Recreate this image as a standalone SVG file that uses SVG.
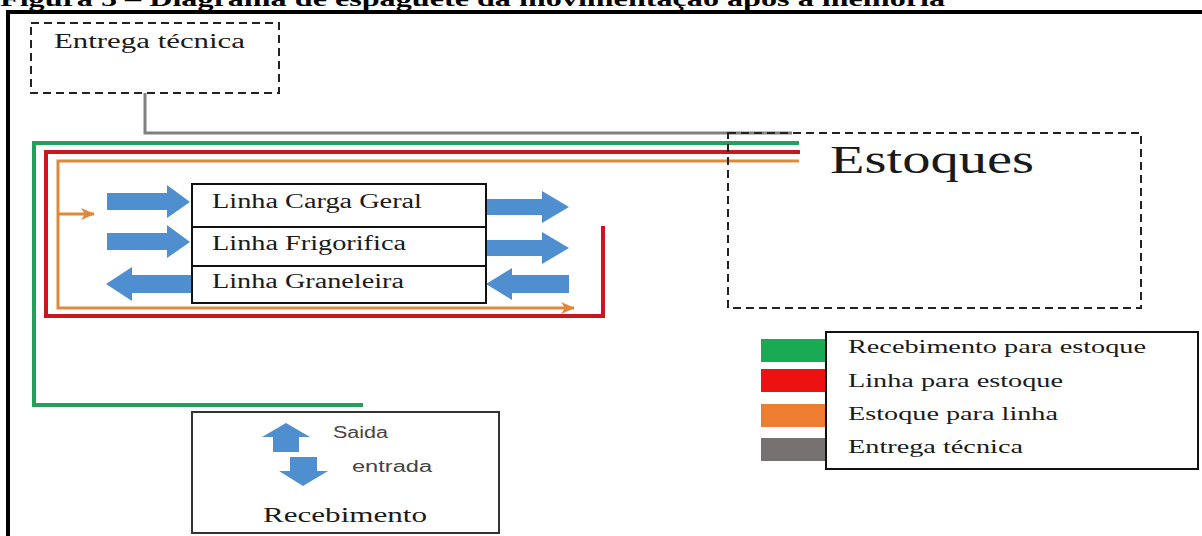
<svg xmlns="http://www.w3.org/2000/svg" width="1202" height="536" viewBox="0 0 1202 536">
<style>
.serif{font-family:"Liberation Serif","Times New Roman",serif;fill:#1a1a1a}
.sans{font-family:"Liberation Sans",Arial,sans-serif;fill:#444}
.dash{fill:#fff;stroke:#222;stroke-width:2;stroke-dasharray:8 5}
.box{fill:#fff;stroke:#111;stroke-width:2}
.blue{fill:#4F8FCF}
.ln{fill:none;stroke-linejoin:miter;stroke-linecap:butt}
</style>
<defs>
<marker id="ah" markerUnits="userSpaceOnUse" markerWidth="14" markerHeight="12" refX="13" refY="6" orient="auto">
<path d="M0,0 L14,6 L0,12 L4,6 Z" fill="#E0883A"/>
</marker>
</defs>
<rect width="1202" height="536" fill="#fff"/>
<g id="title">
<text class="serif" x="0" y="6" font-size="22" font-weight="bold" textLength="945" lengthAdjust="spacingAndGlyphs" style="fill:#000">Figura 5 – Diagrama de espaguete da movimentação após a melhoria</text>
</g>
<g id="frame" fill="none" stroke="#000" stroke-width="4">
<line x1="6" y1="12" x2="1202" y2="12"/>
<line x1="8" y1="10" x2="8" y2="536"/>
</g>
<g id="connectors">
<polyline class="ln" points="145,93 145,133 792,133" stroke="#808080" stroke-width="3"/>
<polyline class="ln" points="799,143 34,143 34,405 363,405" stroke="#23A05A" stroke-width="4"/>
<polyline class="ln" points="800,152 46,152 46,316 603,316 603,226" stroke="#C8171E" stroke-width="4"/>
<polyline class="ln" points="799,161 58,161 58,308 574,308" stroke="#E0883A" stroke-width="3" marker-end="url(#ah)"/>
<line x1="58" y1="214" x2="94" y2="214" stroke="#E0883A" stroke-width="3" marker-end="url(#ah)"/>
</g>
<g id="entrega-tecnica">
<rect class="dash" x="31" y="23" width="248" height="70"/>
<text class="serif" x="54" y="48" font-size="20" textLength="191" lengthAdjust="spacingAndGlyphs">Entrega técnica</text>
</g>
<g id="estoques">
<rect class="dash" x="728" y="133" width="413" height="175" fill="none" style="fill:none"/>
<text class="serif" x="830" y="173" font-size="40" textLength="204" lengthAdjust="spacingAndGlyphs">Estoques</text>
</g>
<g id="blue-arrows">
<path class="blue" d="M107,193 H167 V185 L190,202 L167,218 V210 H107 Z"/>
<path class="blue" d="M107,233 H167 V225 L190,242 L167,258 V250 H107 Z"/>
<path class="blue" d="M192,275 H132 V267 L106,284 L132,301 V293 H192 Z"/>
<path class="blue" d="M486,199 H542 V191 L569,207 L542,223 V215 H486 Z"/>
<path class="blue" d="M486,240 H542 V232 L569,248 L542,264 V256 H486 Z"/>
<path class="blue" d="M569,275 H512 V268 L486,284 L512,300 V293 H569 Z"/>
</g>
<g id="linha-carga-geral">
<rect class="box" x="192" y="184" width="294" height="43"/>
<text class="serif" x="212" y="208" font-size="20" textLength="210" lengthAdjust="spacingAndGlyphs">Linha Carga Geral</text>
</g>
<g id="linha-frigorifica">
<rect class="box" x="192" y="227" width="294" height="39"/>
<text class="serif" x="212" y="250" font-size="20" textLength="194" lengthAdjust="spacingAndGlyphs">Linha Frigorifica</text>
</g>
<g id="linha-graneleira">
<rect class="box" x="192" y="266" width="294" height="37"/>
<text class="serif" x="212" y="288" font-size="20" textLength="192" lengthAdjust="spacingAndGlyphs">Linha Graneleira</text>
</g>
<g id="recebimento">
<rect class="box" x="192" y="412" width="307" height="121" style="stroke:#333"/>
<path class="blue" d="M286,423 L310,437 H299 V452 H273 V437 H262 Z"/>
<path class="blue" d="M290,457 H317 V471 H328 L303,486 L279,471 H290 Z"/>
<text class="sans" x="333" y="438" font-size="16" textLength="55" lengthAdjust="spacingAndGlyphs">Saida</text>
<text class="sans" x="352" y="472" font-size="16" textLength="80" lengthAdjust="spacingAndGlyphs">entrada</text>
<text class="serif" x="263" y="522" font-size="21" textLength="164" lengthAdjust="spacingAndGlyphs">Recebimento</text>
</g>
<g id="legend">
<rect x="761" y="339" width="65" height="23" fill="#1AAA55"/>
<rect x="761" y="369" width="65" height="23" fill="#EE1111"/>
<rect x="761" y="404" width="65" height="23" fill="#ED7D31"/>
<rect x="761" y="438" width="65" height="23" fill="#767171"/>
<rect class="box" x="826" y="332" width="372" height="137"/>
<text class="serif" x="848" y="353" font-size="18" textLength="298" lengthAdjust="spacingAndGlyphs">Recebimento para estoque</text>
<text class="serif" x="848" y="387" font-size="18" textLength="215" lengthAdjust="spacingAndGlyphs">Linha para estoque</text>
<text class="serif" x="848" y="420" font-size="18" textLength="210" lengthAdjust="spacingAndGlyphs">Estoque para linha</text>
<text class="serif" x="848" y="453" font-size="18" textLength="175" lengthAdjust="spacingAndGlyphs">Entrega técnica</text>
</g>
</svg>
